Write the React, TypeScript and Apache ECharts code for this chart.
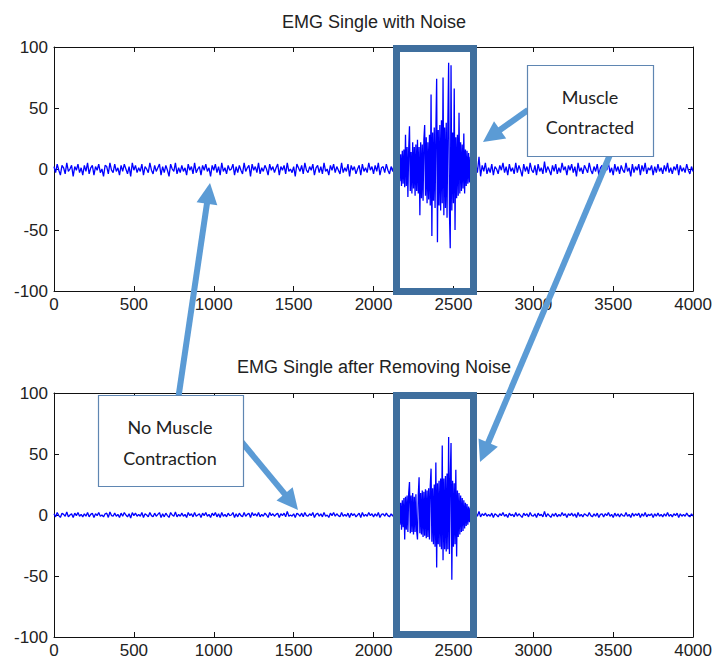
import React, { useEffect, useRef } from "react";
import * as echarts from "echarts";

// ---- Data ----
const xTicks = [0, 500, 1000, 1500, 2000, 2500, 3000, 3500, 4000];
const yTicks = [-100, -50, 0, 50, 100];

// sampling grid of each segment
const noiseBeforeStart = 0;
const burstStart = 2160;
const noiseAfterStart = 2630;
const noiseStep = 10;
const burstStep = 5;

// Top: raw EMG with noise
const rawBefore = [
  2,-3,4,-1,-5,3,1,-4,5,-2,0,3,-6,2,-1,4,-3,1,-5,3,
  -2,5,-4,1,3,-5,2,-1,4,-3,0,-6,3,2,-4,5,-1,-3,4,-2,
  1,-5,3,-2,4,0,-4,2,-6,5,-1,3,-3,1,-2,4,-5,2,0,-3,
  5,-1,-4,3,-2,1,4,-5,2,-3,3,-1,-6,4,0,-2,5,-4,1,-3,
  3,-2,1,-5,4,-1,2,-4,5,-3,0,2,-5,3,-1,4,-2,1,-6,3,
  -1,4,-3,2,-5,5,-2,1,-4,3,-1,0,4,-5,2,-3,3,-1,-4,5,
  -2,1,3,-6,4,-1,2,-3,5,-4,1,-2,3,0,-5,4,-1,2,-3,1,
  4,-5,2,-1,3,-4,5,-2,0,-3,2,-6,4,1,-2,3,-4,5,-1,-3,
  2,-1,4,-5,1,3,-3,2,-4,5,-2,0,-5,3,-1,4,-3,2,-1,-4,
  5,-3,1,-2,4,-6,3,-1,2,-4,0,3,-5,4,-2,1,-3,5,-1,2,
  -4,3,-2,5,-5,1,2,-3,4,-1,-4,2,-2,5,-3,1,
];
const rawBurst = [
  8,-10,12,-14,15,-12,16,-15,28,-14,
  18,-23,16,35,-18,14,-20,22,-16,18,
  -22,20,-18,24,-20,18,-38,22,-24,20,
  -26,24,36,-22,26,-28,22,-25,28,-30,
  61,-55,30,-26,34,-32,30,74,-60,32,
  -30,36,-34,40,-28,75,-38,34,-32,38,
  -40,36,87,-36,-65,85,-34,30,-28,66,
  -50,26,-24,28,-22,46,-20,22,-18,20,
  -16,29,-20,16,-14,15,-12,13,-11,10,
  -9,8,-7,
];
const rawAfter = [
  -5,4,-3,10,-6,3,-2,5,-4,1,-3,4,-5,2,0,-4,3,-1,5,-3,
  2,-5,4,-2,1,-4,5,-3,3,-1,-6,4,-2,2,-4,5,-1,-3,3,-5,
  4,-2,1,-4,6,-3,2,-1,-5,3,-2,4,-4,1,-3,5,-1,2,-5,3,
  -1,4,-3,2,-6,5,-2,1,-4,3,0,-3,5,-1,-4,2,-2,4,-5,1,
  3,-4,2,-1,5,-3,1,-5,4,-2,2,-4,3,-1,-3,5,-2,1,-6,4,
  -3,2,-1,4,-5,3,-2,5,-4,1,-1,3,-5,2,-3,4,-2,1,-4,3,
  -2,5,-3,1,-4,2,-1,4,-5,3,-2,1,-3,4,-1,-4,2,-2,
];

// Bottom: EMG after removing noise
const cleanBefore = [
  1,-1.5,2,-0.5,-2,1.5,0.5,-1,2.5,-1.5,0,1,-2,1.5,-0.5,2,-1,0.5,-1.5,1,
  -1,2,-1.5,0.5,1.5,-2,1,-0.5,2,-1,0,-1.5,1,1.5,-2,2.5,-0.5,-1,1.5,-1,
  0.5,-2,1.5,-1,2,0,-1.5,1,-2.5,2,-0.5,1.5,-1,0.5,-1,2,-2,1,0,-1.5,
  2,-0.5,-1.5,1.5,-1,0.5,2,-2,1,-1.5,1.5,-0.5,-2,2,0,-1,2.5,-1.5,0.5,-1,
  1.5,-1,0.5,-2,2,-0.5,1,-1.5,2,-1,0,1,-2,1.5,-0.5,2,-1,0.5,-2,1.5,
  -0.5,2,-1.5,1,-2,2,-1,0.5,-1.5,1.5,-0.5,0,2,-2,1,-1.5,1.5,-0.5,-1.5,2,
  -1,0.5,1.5,-2,2,-0.5,1,-1,2,-1.5,0.5,-1,1.5,0,-2,2,-0.5,1,-1,0.5,
  1.5,-2,1,-0.5,1.5,-1.5,3,-1,0,-1,1,-2,1.5,0.5,-1,1.5,-1.5,2,-0.5,-1,
  1,-0.5,2,-2,0.5,1.5,-1,1,-1.5,2,-1,0,-2,1.5,-0.5,2,-1,1,-0.5,-1.5,
  2,-1,0.5,-1,1.5,-2,1.5,-0.5,1,-1.5,0,1.5,-2,2,-1,0.5,-1,2,-0.5,1,
  -1.5,1,-1,2,-2,0.5,1,-1,1.5,-0.5,-1.5,1,-1,2,-1,0.5,
];
const cleanBurst = [
  6,-8,10,-12,12,-10,14,-20,15,-12,
  16,-14,18,27,-15,16,-14,18,-16,15,
  -14,17,-13,-20,16,31,-15,18,-16,20,
  -18,19,-17,21,-19,20,-18,22,-20,24,
  38,-22,22,-24,25,-26,43,-43,26,-24,
  28,-26,30,-28,57,-37,30,-28,32,-30,
  34,-28,64,-32,30,59,-53,28,-26,26,
  -24,37,-34,20,-18,18,-16,16,-14,14,
  -13,12,-11,10,-9,9,-8,7,-6,6,
  -5,4,-3,
];
const cleanAfter = [
  -1.5,2,-1,3,-1.5,1,-0.5,1.5,-1,0.5,-1,1.5,-2,1,0,-1.5,1,-0.5,2,-1,
  0.5,-2,1.5,-0.5,0.5,-1.5,2,-1,1,-0.5,-2,1.5,-0.5,1,-1.5,2,-0.5,-1,1,-2,
  1.5,-0.5,0.5,-1.5,3,-1.5,1,-0.5,-2,1,-1,1.5,-1.5,0.5,-1,2,-0.5,1,-2,1,
  -0.5,1.5,-1,1,-2,2,-1,0.5,-1.5,1,0,-1,2,-0.5,-1.5,1,-1,1.5,-2,0.5,
  1,-1.5,1,-0.5,2,-1,0.5,-2,1.5,-1,1,-1.5,1,-0.5,-1,2,-1,0.5,-2,1.5,
  -1,1,-0.5,1.5,-2,1,-1,2,-1.5,0.5,-0.5,1,-2,1,-1,1.5,-1,0.5,-1.5,1,
  -1,2,-1,0.5,-1.5,1,-0.5,1.5,-2,1,-1,0.5,-1,1.5,-0.5,-1.5,1,-1,
];

const titles = ["EMG Single with Noise", "EMG Single after Removing Noise"];

function buildSeries(before: number[], burst: number[], after: number[]) {
  const pts: number[][] = [];
  before.forEach((v, i) => pts.push([noiseBeforeStart + i * noiseStep, v]));
  burst.forEach((v, i) => pts.push([burstStart + i * burstStep, v]));
  after.forEach((v, i) => pts.push([noiseAfterStart + i * noiseStep, v]));
  return pts;
}

const AX = "#111";
const TICK_FONT = "'Liberation Sans', Arial, sans-serif";

function arrow(x1: number, y1: number, x2: number, y2: number) {
  const dx = x2 - x1, dy = y2 - y1;
  const len = Math.sqrt(dx * dx + dy * dy);
  const ux = dx / len, uy = dy / len;
  const hl = 21, hw = 10.5;
  const bx = x2 - ux * hl, by = y2 - uy * hl;
  const nx = -uy, ny = ux;
  const color = "#5b9bd5";
  return [
    {
      type: "line",
      z: 100,
      shape: { x1, y1, x2: bx + ux * 2, y2: by + uy * 2 },
      style: { stroke: color, lineWidth: 6 },
    },
    {
      type: "polygon",
      z: 100,
      shape: {
        points: [
          [x2, y2],
          [bx + nx * hw, by + ny * hw],
          [bx - nx * hw, by - ny * hw],
        ],
      },
      style: { fill: color },
    },
  ];
}

export default function App() {
  const ref = useRef<HTMLDivElement>(null);
  useEffect(() => {
    if (!ref.current) return;
    const chart = echarts.init(ref.current, null, { renderer: "svg" });
    const grids = [
      { left: 54, top: 47, width: 640, height: 244 },
      { left: 54, top: 393, width: 640, height: 244 },
    ];
    const xAxes: any[] = [];
    const yAxes: any[] = [];
    grids.forEach((_, gi) => {
      ["bottom", "top"].forEach((pos) => {
        xAxes.push({
          type: "value",
          gridIndex: gi,
          position: pos,
          min: xTicks[0],
          max: xTicks[xTicks.length - 1],
          interval: 500,
          axisLine: { show: true, onZero: false, lineStyle: { color: AX, width: 1 } },
          axisTick: { show: true, inside: true, length: 5, lineStyle: { color: AX } },
          axisLabel: {
            show: pos === "bottom",
            fontSize: 17,
            color: "#222",
            margin: 5,
            fontFamily: TICK_FONT,
            formatter: (v: number) => String(v),
          },
          splitLine: { show: false },
        });
      });
      ["left", "right"].forEach((pos) => {
        yAxes.push({
          type: "value",
          gridIndex: gi,
          position: pos,
          min: yTicks[0],
          max: yTicks[yTicks.length - 1],
          interval: 50,
          axisLine: { show: true, onZero: false, lineStyle: { color: AX, width: 1 } },
          axisTick: { show: true, inside: true, length: 5, lineStyle: { color: AX } },
          axisLabel: {
            show: pos === "left",
            fontSize: 17,
            color: "#222",
            margin: 6,
            fontFamily: TICK_FONT,
            formatter: (v: number) => String(v),
          },
          splitLine: { show: false },
        });
      });
    });

    const boxColor = "#3f6f9e";
    const calloutBorder = "#5f86b2";
    const textStyle = {
      fill: "#222",
      fontSize: 18,
      fontFamily: "Lato, 'Open Sans', sans-serif",
      textAlign: "center",
      textVerticalAlign: "middle",
    };

    const graphic: any[] = [
      {
        type: "text", x: 374, y: 22, z: 100,
        style: { text: titles[0], fill: "#222", fontSize: 18, fontFamily: TICK_FONT, textAlign: "center", textVerticalAlign: "middle" },
      },
      {
        type: "text", x: 374, y: 367, z: 100,
        style: { text: titles[1], fill: "#222", fontSize: 18, fontFamily: TICK_FONT, textAlign: "center", textVerticalAlign: "middle" },
      },
      {
        type: "rect", z: 99,
        shape: { x: 396.5, y: 48.5, width: 77, height: 243 },
        style: { fill: "none", stroke: boxColor, lineWidth: 7 },
      },
      {
        type: "rect", z: 99,
        shape: { x: 396.5, y: 395.5, width: 77, height: 239 },
        style: { fill: "none", stroke: boxColor, lineWidth: 7 },
      },
      ...arrow(528, 110, 483, 142),
      ...arrow(612, 150, 480, 462),
      ...arrow(178, 400, 210, 183),
      ...arrow(240, 440, 298, 510),
      {
        type: "rect", z: 101,
        shape: { x: 527.5, y: 65.5, width: 126, height: 91 },
        style: { fill: "#fff", stroke: calloutBorder, lineWidth: 1.2 },
      },
      { type: "text", x: 590, y: 97, z: 102, style: { ...textStyle, text: "Muscle" } },
      { type: "text", x: 590, y: 127, z: 102, style: { ...textStyle, text: "Contracted" } },
      {
        type: "rect", z: 101,
        shape: { x: 98.5, y: 395.5, width: 145, height: 91 },
        style: { fill: "#fff", stroke: calloutBorder, lineWidth: 1.2 },
      },
      { type: "text", x: 170, y: 427, z: 102, style: { ...textStyle, text: "No Muscle" } },
      { type: "text", x: 170, y: 458, z: 102, style: { ...textStyle, text: "Contraction" } },
    ];

    chart.setOption({
      animation: false,
      backgroundColor: "#fff",
      grid: grids.map((g) => ({ ...g, show: false })),
      xAxis: xAxes,
      yAxis: yAxes,
      series: [
        {
          type: "line",
          xAxisIndex: 0,
          yAxisIndex: 0,
          showSymbol: false,
          silent: true,
          lineStyle: { color: "#0000ff", width: 1.3 },
          data: buildSeries(rawBefore, rawBurst, rawAfter),
        },
        {
          type: "line",
          xAxisIndex: 2,
          yAxisIndex: 2,
          showSymbol: false,
          silent: true,
          lineStyle: { color: "#0000ff", width: 1.3 },
          data: buildSeries(cleanBefore, cleanBurst, cleanAfter),
        },
      ],
      graphic,
    });
    return () => chart.dispose();
  }, []);
  return <div ref={ref} style={{ width: 715, height: 668, position: "absolute", left: 0, top: 0 }} />;
}
